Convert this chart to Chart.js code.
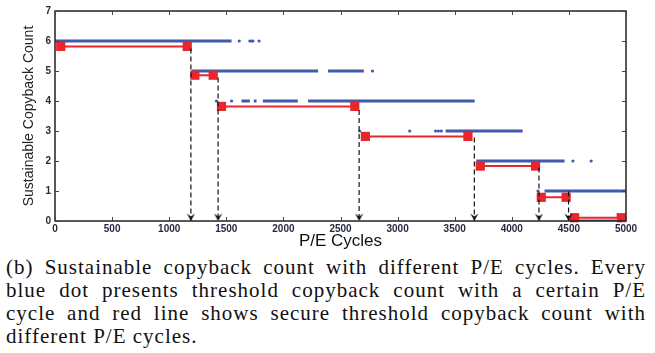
<!DOCTYPE html>
<html>
<head>
<meta charset="utf-8">
<script src="https://cdn.jsdelivr.net/npm/chart.js@4.4.0/dist/chart.umd.min.js"></script>
<style>
  body { margin: 0; background: #fff; width: 655px; height: 353px; overflow: hidden; position: relative; }
  #chart { position: absolute; left: 0; top: 0; }
  .caption { position: absolute; left: 6px; top: 256px; width: 640px;
    font-family: "Liberation Serif", serif; font-size: 21px; letter-spacing: 1px; line-height: 23px; color: #111; }
  .caption div { text-align: justify; text-align-last: justify; white-space: nowrap; }
  .caption div:last-child { text-align-last: left; }
</style>
</head>
<body>
<canvas id="chart" width="655" height="255"></canvas>
<div class="caption">
  <div>(b) Sustainable copyback count with different P/E cycles. Every</div>
  <div>blue dot presents threshold copyback count with a certain P/E</div>
  <div>cycle and red line shows secure threshold copyback count with</div>
  <div>different P/E cycles.</div>
</div>
<script>
// P/E cycle axis and copyback count axis
const xTicks = [0, 500, 1000, 1500, 2000, 2500, 3000, 3500, 4000, 4500, 5000];
const yTicks = [0, 1, 2, 3, 4, 5, 6, 7];

// blue dots: dense runs [from, to] and loose dots per level
const blueLevels = [6, 5, 4, 3, 2, 1, 0];
const blueRuns = [
    [[0, 1546]],
    [[1196, 2304], [2391, 2704]],
    [[1633, 1706], [1741, 1765], [1820, 2126], [2216, 3675]],
    [[3421, 4095]],
    [[3689, 4462]],
    [[4287, 5000]],
    [[4564, 4914]]
];
const blueDots = [
    [1613, 1706, 1720, 1733, 1787],
    [2780],
    [1414, 1546],
    [2668, 3106, 3333, 3358, 3383],
    [4535, 4695],
    [4229],
    []
];

// red line: secure threshold copyback count [start, end, count]
const redSegments = [
    [50, 1158, 5.82],
    [1225, 1385, 4.86],
    [1458, 2625, 3.82],
    [2718, 3616, 2.82],
    [3724, 4208, 1.83],
    [4258, 4476, 0.79],
    [4550, 4958, 0.11]
];

// dashed arrows down to the axis
const arrowX = [1190, 1428, 2663, 3672, 4238, 4497];
const arrowTop = [5.75, 4.78, 3.7, 2.78, 1.78, 0.98];

const blue = '#3f5bab';
const red = '#e8262c';

let runData = [];
blueRuns.forEach((runs, i) => {
    runs.forEach(r => {
        runData.push({x: r[0], y: blueLevels[i]}, {x: r[1], y: blueLevels[i]}, {x: r[1], y: null});
    });
});
let dotData = [];
blueDots.forEach((dots, i) => dots.forEach(d => dotData.push({x: d, y: blueLevels[i]})));

let redData = [];
redSegments.forEach(s => redData.push({x: s[0], y: s[2]}, {x: s[1], y: s[2]}, {x: s[1], y: null}));

let arrowData = [];
arrowX.forEach((x, i) => arrowData.push({x: x, y: arrowTop[i]}, {x: x, y: 0}, {x: x, y: null}));

// arrow head, tip in the middle of the canvas so it lands on the point
const head = document.createElement('canvas');
head.width = 9; head.height = 18;
const hctx = head.getContext('2d');
hctx.fillStyle = '#111';
hctx.beginPath();
hctx.moveTo(0.5, 1.5);
hctx.lineTo(4.5, 9);
hctx.lineTo(8.5, 1.5);
hctx.lineTo(4.5, 4.5);
hctx.closePath();
hctx.fill();

const boxTicks = {
    id: 'boxTicks',
    afterDatasetsDraw(chart) {
        const {ctx, chartArea: a, scales: {x, y}} = chart;
        ctx.save();
        ctx.strokeStyle = '#222';
        ctx.lineWidth = 1.5;
        ctx.strokeRect(a.left, a.top, a.right - a.left, a.bottom - a.top);
        ctx.lineWidth = 1;
        ctx.strokeStyle = '#444';
        ctx.beginPath();
        x.ticks.forEach(t => {
            const px = Math.round(x.getPixelForValue(t.value)) + 0.5;
            ctx.moveTo(px, a.bottom); ctx.lineTo(px, a.bottom - 4);
            ctx.moveTo(px, a.top); ctx.lineTo(px, a.top + 4);
        });
        y.ticks.forEach(t => {
            const py = Math.round(y.getPixelForValue(t.value)) + 0.5;
            ctx.moveTo(a.left, py); ctx.lineTo(a.left + 4, py);
            ctx.moveTo(a.right, py); ctx.lineTo(a.right - 4, py);
        });
        ctx.stroke();
        ctx.restore();
    }
};

const ctx = document.getElementById('chart').getContext('2d');

const chart = new Chart(ctx, {
    type: 'scatter',
    data: {
        datasets: [
            {
                data: arrowData,
                showLine: true,
                borderColor: '#111',
                borderWidth: 1.2,
                borderDash: [5, 3],
                pointStyle: c => (c.raw && c.raw.y === 0) ? head : false,
                pointRadius: c => (c.raw && c.raw.y === 0) ? 4 : 0,
                clip: 10
            },
            {
                data: redData,
                showLine: true,
                borderColor: red,
                borderWidth: 2,
                pointStyle: 'rect',
                pointRadius: 6.5,
                pointBackgroundColor: red,
                pointBorderColor: red,
                pointBorderWidth: 0,
                clip: 10
            },
            {
                data: dotData,
                pointRadius: 1.6,
                pointBackgroundColor: blue,
                pointBorderWidth: 0
            },
            {
                data: runData,
                showLine: true,
                borderColor: blue,
                borderWidth: 3,
                pointRadius: 0,
                spanGaps: false
            }
        ]
    },
    options: {
        responsive: false,
        animation: false,
        layout: { padding: { top: 11, right: 29, left: 0, bottom: 0 } },
        plugins: {
            legend: { display: false },
            tooltip: { enabled: false }
        },
        scales: {
            x: {
                type: 'linear',
                min: 0,
                max: 5000,
                afterBuildTicks: s => { s.ticks = xTicks.map(v => ({value: v})); },
                afterFit: s => { s.height = 34; },
                grid: { display: false, drawTicks: false },
                border: { display: false },
                ticks: {
                    padding: 2,
                    maxRotation: 0,
                    color: '#262a40',
                    callback: v => String(v),
                    font: { family: 'Liberation Sans', size: 10, weight: 'bold' }
                },
                title: {
                    display: true,
                    text: 'P/E Cycles',
                    color: '#111',
                    padding: { top: 0, bottom: 3 },
                    font: { family: 'Liberation Sans', size: 17 }
                }
            },
            y: {
                min: 0,
                max: 7,
                afterBuildTicks: s => { s.ticks = yTicks.map(v => ({value: v})); },
                afterFit: s => { s.width = 55; },
                grid: { display: false, drawTicks: false },
                border: { display: false },
                ticks: {
                    padding: 4,
                    color: '#262a40',
                    callback: v => String(v),
                    font: { family: 'Liberation Sans', size: 10, weight: 'bold' }
                },
                title: {
                    display: true,
                    text: 'Sustainable Copyback Count',
                    color: '#222',
                    padding: { top: 21, bottom: 0 },
                    font: { family: 'Liberation Sans', size: 14 }
                }
            }
        }
    },
    plugins: [boxTicks]
});
</script>
</body>
</html>
